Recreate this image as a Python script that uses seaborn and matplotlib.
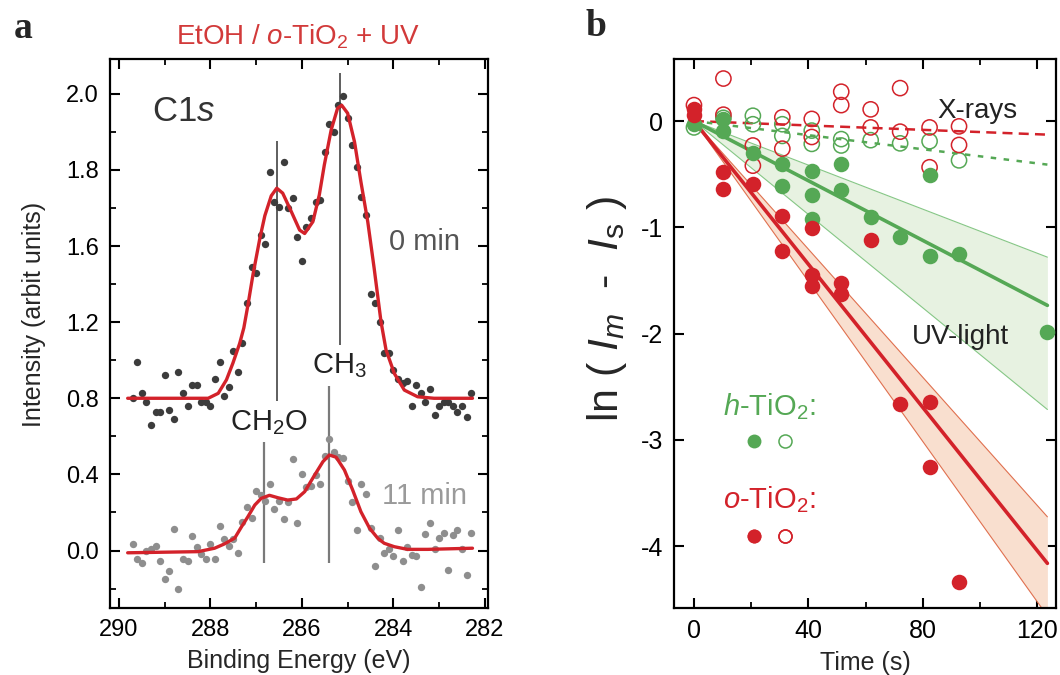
import numpy as np
import matplotlib
matplotlib.use("Agg")
import matplotlib.pyplot as plt
import seaborn as sns
from matplotlib.lines import Line2D

# ---------------- panel a : C1s spectra ----------------
energy = [289.7, 289.6, 289.5, 289.4, 289.3, 289.2, 289.1, 289.0, 288.9, 288.8,
          288.7, 288.6, 288.5, 288.4, 288.3, 288.2, 288.1, 288.0, 287.9, 287.8,
          287.7, 287.6, 287.5, 287.4, 287.3, 287.2, 287.1, 287.0, 286.9, 286.8,
          286.7, 286.6, 286.5, 286.4, 286.3, 286.2, 286.1, 286.0, 285.9, 285.8,
          285.7, 285.6, 285.5, 285.4, 285.3, 285.2, 285.1, 285.0, 284.9, 284.8,
          284.7, 284.6, 284.5, 284.4, 284.3, 284.2, 284.1, 284.0, 283.9, 283.8,
          283.7, 283.6, 283.5, 283.4, 283.3, 283.2, 283.1, 283.0, 282.9, 282.8,
          282.7, 282.6, 282.5, 282.4, 282.3]

c1s_0min = [0.80, 0.99, 0.83, 0.78, 0.66, 0.73, 0.73, 0.92, 0.74, 0.69,
            0.94, 0.83, 0.76, 0.87, 0.87, 0.78, 0.78, 0.76, 0.90, 0.99,
            0.81, 0.86, 1.05, 0.94, 1.09, 1.30, 1.49, 1.46, 1.63, 1.605,
            1.795, 1.716, 1.703, 1.822, 1.701, 1.727, 1.624, 1.52, 1.649, 1.673,
            1.716, 1.721, 1.848, 1.922, 1.90, 1.97, 1.995, 1.936, 1.865, 1.808,
            1.73, 1.682, 1.35, 1.30, 1.20, 1.04, 1.04, 0.95, 0.90, 0.88,
            0.89, 0.76, 0.87, 0.83, 0.78, 0.85, 0.71, 0.76, 0.78, 0.78,
            0.76, 0.73, 0.76, 0.70, 0.83]

c1s_11min = [0.033, -0.046, -0.064, -0.001, 0.008, 0.025, -0.054, -0.151, -0.106, 0.111,
             -0.202, -0.046, -0.055, 0.076, 0.020, -0.018, -0.045, 0.033, -0.045, 0.129,
             0.059, 0.024, 0.06, -0.012, 0.15, 0.227, 0.172, 0.314, 0.292, 0.26,
             0.349, 0.216, 0.26, 0.166, 0.255, 0.481, 0.143, 0.402, 0.335, 0.339,
             0.397, 0.348, 0.497, 0.586, 0.519, 0.49, 0.484, 0.365, 0.256, 0.108,
             0.348, 0.297, 0.117, -0.081, 0.064, -0.012, 0.006, -0.03, 0.108, -0.054,
             0.020, -0.024, -0.027, -0.193, 0.087, 0.146, 0.008, 0.064, 0.094, -0.102,
             0.081, 0.108, 0.008, -0.129, 0.090]

# fitted envelopes
fit_0min_energy = [289.81, 288.05, 287.83, 287.65, 287.51, 287.36, 287.27, 287.18, 287.07,
                   286.92, 286.81, 286.67, 286.55, 286.42, 286.23, 286.05, 285.94, 285.76,
                   285.62, 285.51, 285.36, 285.22, 285.13, 285.00, 284.85, 284.71, 284.56,
                   284.42, 284.27, 284.16, 283.98, 283.76, 283.47, 283.11, 282.27]
fit_0min = [0.80, 0.80, 0.826, 0.897, 0.984, 1.089, 1.17, 1.29, 1.45,
            1.62, 1.68, 1.732, 1.752, 1.739, 1.69, 1.642, 1.633, 1.664,
            1.734, 1.813, 1.905, 1.962, 1.97, 1.949, 1.874, 1.769, 1.664,
            1.483, 1.202, 1.054, 0.931, 0.843, 0.808, 0.80, 0.80]

fit_11min_energy = [289.81, 288.27, 287.91, 287.69, 287.47, 287.32, 287.18, 287.03, 286.89,
                    286.71, 286.52, 286.31, 286.12, 285.94, 285.72, 285.54, 285.40, 285.25,
                    285.07, 284.89, 284.71, 284.52, 284.34, 284.20, 283.98, 283.69, 283.25,
                    282.27]
fit_11min = [-0.012, -0.006, 0.012, 0.035, 0.065, 0.125, 0.178, 0.239, 0.274,
             0.29, 0.277, 0.265, 0.271, 0.309, 0.397, 0.467, 0.502, 0.49,
             0.423, 0.318, 0.204, 0.117, 0.064, 0.038, 0.02, 0.006, 0.006,
             0.012]

# peak markers (CH2O, CH3)
peaks_0min = [286.54, 285.16]
peaks_0min_bottom = [0.787, 1.08]
peaks_0min_top = [1.876, 2.054]
peaks_11min = [286.83, 285.41]
peaks_11min_bottom = [-0.064, -0.064]
peaks_11min_top = [0.572, 0.864]

# ---------------- panel b : ln(Im - Is) vs time ----------------
o_uv_t = [0, 0, 10.3, 10.3, 20.6, 30.9, 30.9, 41.2, 41.2, 41.2,
          51.5, 51.5, 61.8, 72.1, 82.4, 82.4, 92.7]
o_uv_v = [0.11, 0.06, -0.48, -0.64, -0.59, -0.89, -1.22, -1.01, -1.45, -1.55,
          -1.525, -1.625, -1.12, -2.665, -2.64, -3.26, -4.34]

h_uv_t = [0, 10.3, 10.3, 20.6, 30.9, 30.9, 41.2, 41.2, 41.2, 51.5,
          51.5, 61.8, 72.1, 82.4, 82.4, 92.7, 123.6]
h_uv_v = [-0.03, 0.02, -0.09, -0.30, -0.40, -0.61, -0.47, -0.70, -0.92, -0.40,
          -0.65, -0.90, -1.09, -0.51, -1.27, -1.25, -1.985]

o_xray_t = [0, 10.3, 10.3, 20.6, 20.6, 30.9, 30.9, 41.2, 41.2, 51.5,
            51.5, 61.8, 61.8, 72.1, 72.1, 82.4, 82.4, 92.7, 92.7]
o_xray_v = [0.15, 0.40, 0.06, -0.23, -0.42, 0.035, -0.26, 0.02, -0.15, 0.276,
            0.15, 0.11, -0.06, 0.31, -0.10, -0.06, -0.435, -0.05, -0.225]

h_xray_t = [0, 10.3, 20.6, 20.6, 30.9, 30.9, 41.2, 41.2, 51.5, 51.5,
            61.8, 72.1, 82.4, 92.7]
h_xray_v = [-0.06, 0.03, 0.05, -0.03, -0.03, -0.14, -0.09, -0.215, -0.17, -0.23,
            -0.18, -0.21, -0.19, -0.37]

# linear fits and confidence bands (end points)
fit_t = [0, 123.6]
o_uv_fit = [0, -4.163]
o_uv_lo = [0, -4.658]
o_uv_hi = [0, -3.725]
h_uv_fit = [0, -1.735]
h_uv_lo = [0, -2.715]
h_uv_hi = [0, -1.281]
o_xray_fit = [0, -0.128]
h_xray_fit = [0, -0.41]

RED = "#d3222a"
TITLE_RED = "#d23a3a"
GREEN = "#55a855"
DARK = "#3c3c3c"
GREY = "#8e8e8e"

sns.set_theme(style="ticks")
plt.rcParams["font.family"] = ["Liberation Sans", "DejaVu Sans"]
plt.rcParams["mathtext.fontset"] = "custom"
plt.rcParams["mathtext.rm"] = "Liberation Sans"
plt.rcParams["mathtext.it"] = "Liberation Sans:italic"
plt.rcParams["mathtext.bf"] = "Liberation Sans:bold"
plt.rcParams["axes.unicode_minus"] = False
plt.rcParams["axes.linewidth"] = 1.6
plt.rcParams["axes.edgecolor"] = "black"
for a in ("xtick", "ytick"):
    plt.rcParams[a + ".direction"] = "in"
    plt.rcParams[a + ".major.size"] = 7
    plt.rcParams[a + ".minor.size"] = 4
    plt.rcParams[a + ".major.width"] = 1.5
    plt.rcParams[a + ".minor.width"] = 1.3
    plt.rcParams[a + ".major.pad"] = 8
    plt.rcParams[a + ".color"] = "black"
plt.rcParams["xtick.top"] = True
plt.rcParams["ytick.right"] = True

fig = plt.figure(figsize=(10.6, 6.75), dpi=100)
ax_a = fig.add_axes([0.1038, 0.0993, 0.3566, 0.8133])
ax_b = fig.add_axes([0.6358, 0.0993, 0.3604, 0.8133])


# upper part of the intensity axis is stretched by 2x above 1.6
def _fwd(y):
    y = np.asarray(y, dtype=float)
    return np.where(y <= 1.6, y, 1.6 + 2.0 * (y - 1.6))


def _inv(u):
    u = np.asarray(u, dtype=float)
    return np.where(u <= 1.6, u, 1.6 + (u - 1.6) / 2.0)


ax_a.set_yscale("function", functions=(_fwd, _inv))

# ---- panel a drawing
ax_a.vlines(peaks_0min, peaks_0min_bottom, peaks_0min_top, color="#333333", lw=1.1, zorder=1)
ax_a.vlines(peaks_11min, peaks_11min_bottom, peaks_11min_top, color="#7a7a7a", lw=1.6, zorder=1)
sns.scatterplot(x=energy, y=c1s_0min, ax=ax_a, color=DARK, s=28, linewidth=0, zorder=2)
sns.scatterplot(x=energy, y=c1s_11min, ax=ax_a, color=GREY, s=28, linewidth=0, zorder=2)
ax_a.plot(fit_0min_energy, fit_0min, color=RED, lw=2.4, zorder=3, solid_joinstyle="round")
ax_a.plot(fit_11min_energy, fit_11min, color=RED, lw=2.4, zorder=3, solid_joinstyle="round")

ax_a.set_xlim(290.196, 281.93)
ax_a.set_ylim(-0.302, 2.0915)
ax_a.set_xticks([290, 288, 286, 284, 282])
ax_a.set_xticks([289, 287, 285, 283], minor=True)
ax_a.set_yticks([0.0, 0.4, 0.8, 1.2, 1.6, 1.8, 2.0])
ax_a.set_yticklabels(["0.0", "0.4", "0.8", "1.2", "1.6", "1.8", "2.0"])
ax_a.set_yticks([-0.2, 0.2, 0.6, 1.0, 1.4, 1.7, 1.9], minor=True)
ax_a.tick_params(labelsize=17)
ax_a.set_xlabel("Binding Energy (eV)", fontsize=18, labelpad=6)
ax_a.set_ylabel("")
ax_a.text(-0.2, 0.535, "Intensity (arbit units)", rotation=90, fontsize=18,
          ha="center", va="center", transform=ax_a.transAxes)

ax_a.text(0.111, 0.904, r"C$\mathit{1s}$", fontsize=25, color="#333333",
          ha="left", va="center", transform=ax_a.transAxes)
ax_a.text(0.833, 0.667, "0 min", fontsize=21, color="#555555",
          ha="center", va="center", transform=ax_a.transAxes)
ax_a.text(0.833, 0.204, "11 min", fontsize=21, color="#9a9a9a",
          ha="center", va="center", transform=ax_a.transAxes)
ax_a.text(0.606, 0.441, r"CH$_3$", fontsize=21, color="#222222",
          ha="center", va="center", transform=ax_a.transAxes)
ax_a.text(0.419, 0.337, r"CH$_2$O", fontsize=21, color="#222222",
          ha="center", va="center", transform=ax_a.transAxes)

# ---- panel b drawing
ax_b.fill_between(fit_t, h_uv_lo, h_uv_hi, color="#e7f2e1", lw=0, zorder=1)
ax_b.plot(fit_t, h_uv_lo, color="#86c786", lw=0.8, zorder=1)
ax_b.plot(fit_t, h_uv_hi, color="#86c786", lw=0.8, zorder=1)
ax_b.fill_between(fit_t, o_uv_lo, o_uv_hi, color="#f9dfcf", lw=0, zorder=1)
ax_b.plot(fit_t, o_uv_lo, color="#e0704f", lw=0.8, zorder=1)
ax_b.plot(fit_t, o_uv_hi, color="#e0704f", lw=0.8, zorder=1)

ax_b.plot(fit_t, h_uv_fit, color=GREEN, lw=2.6, zorder=2)
ax_b.plot(fit_t, o_uv_fit, color=RED, lw=2.6, zorder=2)
ax_b.plot(fit_t, o_xray_fit, color=RED, lw=1.8, ls=(0, (4, 2.5)), zorder=2)
ax_b.plot(fit_t, h_xray_fit, color=GREEN, lw=1.8, ls=(0, (2.2, 3)), zorder=2)

sns.scatterplot(x=h_xray_t, y=h_xray_v, ax=ax_b, s=120, facecolor="none",
                edgecolor=GREEN, linewidth=1.1, zorder=3)
sns.scatterplot(x=o_xray_t, y=o_xray_v, ax=ax_b, s=120, facecolor="none",
                edgecolor=RED, linewidth=1.1, zorder=3)
sns.scatterplot(x=h_uv_t, y=h_uv_v, ax=ax_b, s=125, color=GREEN, linewidth=0, zorder=4)
sns.scatterplot(x=o_uv_t, y=o_uv_v, ax=ax_b, s=125, color=RED, linewidth=0, zorder=4)

ax_b.set_xlim(-7.0, 126.6)
ax_b.set_ylim(-4.583, 0.584)
ax_b.set_xticks([0, 40, 80, 120])
ax_b.set_xticks([20, 60, 100], minor=True)
ax_b.set_yticks([0, -1, -2, -3, -4])
ax_b.tick_params(labelsize=18)
ax_b.set_xlabel("Time (s)", fontsize=18, labelpad=6)
ax_b.set_ylabel("")
ax_b.text(-0.175, 0.545, r"ln ( $\mathit{I}_{\mathit{m}}$  -  $\mathit{I}_{\mathrm{s}}$ )",
          rotation=90, fontsize=31, ha="center", va="center", transform=ax_b.transAxes)

ax_b.text(0.795, 0.905, "X-rays", fontsize=20, color="#222222",
          ha="center", va="center", transform=ax_b.transAxes)
ax_b.text(0.75, 0.494, "UV-light", fontsize=20, color="#222222",
          ha="center", va="center", transform=ax_b.transAxes)

# material keys: label text with a filled (UV) and open (X-ray) symbol below
for name, col, ty, ly in [(r"$\mathit{h}$-TiO$_2$:", GREEN, 0.367, 0.30),
                          (r"$\mathit{o}$-TiO$_2$:", RED, 0.197, 0.127)]:
    ax_b.text(0.128, ty, name, fontsize=21, color=col, ha="left", va="center",
              transform=ax_b.transAxes)
    handles = [Line2D([], [], ls="", marker="o", ms=10, mfc=col, mec=col, mew=0),
               Line2D([], [], ls="", marker="o", ms=9.4, mfc="none", mec=col, mew=1.1)]
    leg = ax_b.legend(handles, ["", ""], ncol=2, loc="center left",
                      bbox_to_anchor=(0.184, ly), frameon=False, fontsize=14,
                      handlelength=1.0, handletextpad=0.0, columnspacing=0.6,
                      borderpad=0.0, borderaxespad=0.0)
    ax_b.add_artist(leg)

fig.text(0.013, 0.944, "a", fontsize=27, fontweight="bold", family="Liberation Serif")
fig.text(0.5526, 0.946, "b", fontsize=27, fontweight="bold", family="Liberation Serif")
fig.text(0.281, 0.945, r"EtOH / $\mathit{o}$-TiO$_2$ + UV", fontsize=20, color=TITLE_RED,
         ha="center", va="center")

fig.savefig("out.png", dpi=100)
